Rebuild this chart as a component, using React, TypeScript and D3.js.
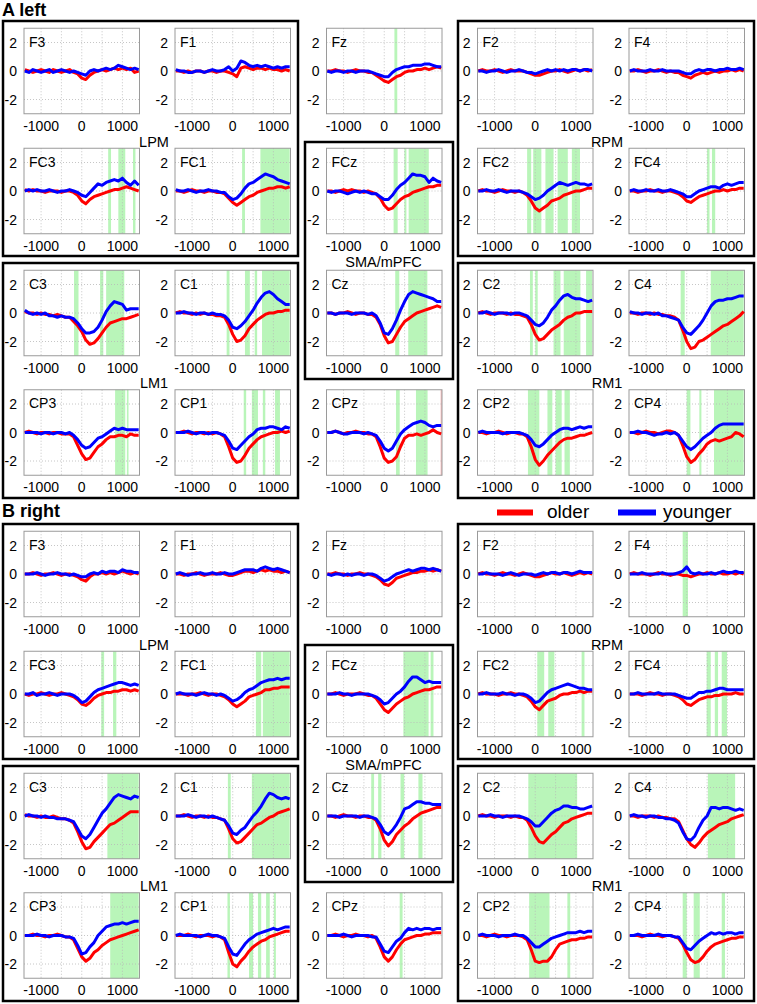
import React from "react";
import * as d3 from "d3";

// ---------- sampling times (ms) ----------
const TIMES = [-1400,-1300,-1200,-1100,-1000,-900,-800,-700,-600,-500,-400,-300,-200,-100,0,100,200,300,400,500,600,700,800,900,1000,1100,1200,1300,1400];
const X_TICKS = [-1000, 0, 1000];
const X_GRID = [-1000, -500, 0, 500, 1000];
const Y_TICKS = [-2, 0, 2];
const CHANNELS = [
  ["F3", "F1", "Fz", "F2", "F4"],
  ["FC3", "FC1", "FCz", "FC2", "FC4"],
  ["C3", "C1", "Cz", "C2", "C4"],
  ["CP3", "CP1", "CPz", "CP2", "CP4"],
];
const GROUPS = ["LPM", "RPM", "SMA/mPFC", "LM1", "RM1"];
const SECTIONS = ["A left", "B right"];
const LEGEND = ["older", "younger"];

// ---------- A left : older / younger ----------
const A_F3_o = [0.1,0,-0.1,0,0.1,0,-0.1,0.1,0,-0.1,0,0.1,-0.1,-0.2,-0.5,-0.6,-0.3,-0.1,0,0.1,0,0.1,0.2,0.1,0.2,0.1,0.2,-0.1,0];
const A_F3_y = [0,-0.1,0.1,0,-0.1,0,0.1,-0.1,0,0.1,0,-0.1,0,-0.1,-0.2,-0.3,0,0.1,0,0.1,0.2,0.1,0.2,0.4,0.3,0.2,0.1,0.2,0.1];
const A_F1_o = [0,0,-0.1,0,-0.1,0,0,-0.1,0,0,-0.1,0,0,-0.1,-0.2,-0.4,0.2,0.3,0.2,0.1,0.2,0.2,0.1,0.2,0.1,0.1,0,0.1,0];
const A_F1_y = [0.1,0,0,-0.1,-0.1,0,0,-0.1,0,0.1,0,0,0.1,0.3,0,0.2,0.7,0.6,0.4,0.3,0.4,0.3,0.4,0.3,0.2,0.3,0.2,0.3,0.3];
const A_Fz_o = [0,0,0.1,0,0,-0.1,0,0.1,0,0,-0.1,-0.1,-0.3,-0.5,-0.7,-0.8,-0.6,-0.4,-0.3,-0.1,0,0,0.1,0.1,0.2,0.1,0.2,0.3,0.2];
const A_Fz_y = [0,-0.1,0,0,-0.1,0,0,-0.1,0,0,0,-0.1,-0.2,-0.3,-0.4,-0.4,-0.1,0.1,0.2,0.3,0.3,0.4,0.4,0.4,0.5,0.5,0.4,0.3,0.3];
const A_F2_o = [0,0.1,0,0,0.1,0,-0.1,0,0.1,0,0,0,-0.1,-0.2,-0.3,-0.3,-0.2,-0.1,0,0,0.1,0,-0.1,0,0.1,0,0.1,0,0.1];
const A_F2_y = [0,0,-0.1,0,0,0.1,0,-0.1,0,0,0.1,0,-0.1,-0.1,-0.2,-0.1,0,0.1,0,0.1,0,0.1,0,0.1,0.1,0,0.1,0.1,0];
const A_F4_o = [0,0,0.1,0,-0.1,0,0,0.1,0,-0.1,0,-0.1,-0.1,-0.3,-0.4,-0.5,-0.3,-0.2,-0.1,-0.2,-0.1,0,-0.1,0,0,0.1,0,0.1,0];
const A_F4_y = [0,0.1,0,0,0,0.1,0,0,0.1,0,0,0,0,-0.1,-0.2,-0.2,0,0.1,0,0.1,0.1,0,0.1,0.1,0.2,0.1,0.1,0.2,0.1];
const A_FC3_o = [0.1,0,0.1,0,0,-0.1,0,0,0,-0.1,0,0,-0.1,-0.3,-0.7,-0.9,-0.6,-0.4,-0.3,-0.2,-0.1,0,0.1,0.1,0.2,0.3,0.2,0.1,0];
const A_FC3_y = [0,0.1,0,0.1,0,0,0.1,0,-0.1,0,0,0.1,0,-0.1,-0.3,-0.4,-0.1,0.2,0.5,0.4,0.6,0.7,0.8,0.7,0.9,0.6,0.4,0.7,0.4];
const A_FC1_o = [0,0,-0.1,0,0.1,0,0,-0.1,0,0,-0.1,-0.1,-0.2,-0.5,-0.8,-1.0,-0.8,-0.6,-0.4,-0.3,-0.1,0,0.1,0.2,0.2,0.3,0.3,0.2,0.3];
const A_FC1_y = [0.1,0,0,0.1,0,-0.1,0,0,0.1,0,0,-0.1,-0.1,-0.4,-0.6,-0.5,-0.2,0.2,0.5,0.6,0.8,1.0,1.2,1.1,1.0,0.8,0.7,0.6,0.5];
const A_FCz_o = [0,0,-0.1,0,0.1,0,0.1,0,0,-0.1,0,-0.1,-0.2,-0.5,-1.0,-1.3,-1.2,-0.9,-0.6,-0.4,-0.3,-0.1,0,0.1,0.2,0.3,0.3,0.4,0.4];
const A_FCz_y = [0,-0.1,0,0,-0.1,-0.2,-0.1,0,-0.1,0,-0.1,-0.2,-0.2,-0.4,-0.6,-0.6,-0.3,0.1,0.4,0.6,0.9,1.2,1.1,1.1,1.0,0.6,0.9,0.7,0.6];
const A_FC2_o = [0,0.1,0,0,-0.1,0,0.1,0,0,-0.1,0,-0.1,-0.3,-0.7,-1.2,-1.4,-1.2,-1.0,-0.7,-0.6,-0.5,-0.3,-0.2,-0.1,0,0,0.1,0.2,0.2];
const A_FC2_y = [0,0,0.1,0,0,0.1,0,-0.1,0,0,0,-0.1,-0.2,-0.4,-0.6,-0.5,-0.3,0,0.2,0.4,0.6,0.5,0.4,0.5,0.6,0.5,0.5,0.4,0.5];
const A_FC4_o = [0,0,-0.1,0,0,0.1,0,0,-0.1,0,0,-0.1,-0.2,-0.4,-0.7,-0.8,-0.6,-0.4,-0.3,-0.2,-0.1,0,0,0.1,0,0.1,0.1,0.2,0.2];
const A_FC4_y = [0,0.1,0,0,0.1,0,0,0.1,0,0,0.1,0,-0.1,-0.2,-0.4,-0.4,-0.2,0,0.1,0.2,0.3,0.3,0.2,0.4,0.5,0.4,0.5,0.6,0.6];
const A_C3_o = [0.1,0,0,-0.1,0,-0.1,-0.1,-0.2,-0.1,-0.2,-0.3,-0.3,-0.6,-0.9,-1.3,-1.9,-2.2,-2.1,-1.8,-1.4,-1.0,-0.7,-0.6,-0.5,-0.4,-0.4,-0.3,-0.2,-0.1];
const A_C3_y = [0.2,0,-0.1,0,-0.1,0,-0.2,-0.2,-0.3,-0.2,-0.3,-0.3,-0.4,-0.7,-1.1,-1.4,-1.4,-1.3,-1.0,-0.5,0.1,0.5,0.8,0.7,0.6,0.2,0.3,0.3,0.3];
const A_C1_o = [0,0.1,0,0,-0.1,0,-0.1,0,-0.1,-0.1,-0.2,-0.2,-0.3,-0.8,-1.5,-2.0,-1.9,-1.6,-1.1,-0.8,-0.5,-0.3,-0.1,0,0,0.1,0.1,0.2,0.2];
const A_C1_y = [0,0,0.1,0,0,-0.1,0,0,-0.1,0,-0.1,-0.1,-0.2,-0.5,-1.0,-1.1,-0.9,-0.6,-0.2,0.2,0.7,1.1,1.4,1.5,1.3,1.0,0.8,0.6,0.6];
const A_Cz_o = [0,0,-0.1,0,0,0.1,0,-0.1,0,0,-0.1,-0.1,-0.3,-0.8,-1.6,-2.1,-2.0,-1.5,-1.0,-0.6,-0.4,-0.2,0,0.1,0.2,0.3,0.4,0.5,0.4];
const A_Cz_y = [0,0,-0.1,0,0,0,-0.1,0,0,0,-0.1,0,-0.2,-0.7,-1.4,-1.5,-1.1,-0.5,0.2,0.8,1.3,1.5,1.4,1.3,1.2,1.1,1.0,0.8,0.8];
const A_C2_o = [0,0.1,0,-0.1,0,0,0,-0.1,0,-0.1,-0.1,-0.2,-0.3,-0.8,-1.5,-1.9,-1.8,-1.5,-1.2,-1.0,-0.8,-0.5,-0.3,-0.2,0,0,0.1,0.1,0.1];
const A_C2_y = [0,0,0.1,0,-0.1,0,0,0,-0.1,0,0,-0.1,-0.2,-0.5,-0.8,-0.9,-0.7,-0.3,0.2,0.5,0.9,1.2,1.3,1.1,1.0,1.0,0.9,0.8,0.9];
const A_C4_o = [0,0,-0.1,0,0,-0.1,0,-0.1,-0.1,-0.2,-0.2,-0.3,-0.5,-1.2,-2.0,-2.5,-2.4,-2.0,-1.9,-1.7,-1.5,-1.3,-1.1,-0.9,-0.8,-0.6,-0.4,-0.2,0.1];
const A_C4_y = [0.1,0,0,-0.1,0,0,-0.1,0,-0.2,-0.2,-0.3,-0.4,-0.5,-1.0,-1.4,-1.5,-1.2,-0.9,-0.5,0,0.5,0.8,0.9,0.9,1.0,1.0,1.1,1.2,1.2];
const A_CP3_o = [0,0.1,0,-0.1,0,0,-0.1,0,0,-0.1,-0.1,-0.1,-0.3,-0.9,-1.5,-1.9,-1.8,-1.4,-1.0,-0.8,-0.5,-0.3,-0.3,-0.2,-0.2,-0.3,-0.1,-0.2,-0.2];
const A_CP3_y = [0,0,0,0,-0.1,0,0,-0.1,0,0,-0.1,0,-0.2,-0.5,-0.9,-1.1,-1.0,-0.7,-0.4,-0.3,-0.1,0.1,0.3,0.2,0.3,0.2,0.2,0.2,0.2];
const A_CP1_o = [0,0,0.1,0,-0.1,0,0,-0.1,0,-0.1,0,-0.1,-0.3,-1.0,-1.8,-2.1,-2.0,-1.6,-1.1,-0.8,-0.5,-0.3,-0.2,-0.1,0,0,0.1,0,0.1];
const A_CP1_y = [0,0,0,0.1,0,-0.1,0,0,-0.1,0,0,-0.1,-0.2,-0.6,-1.1,-1.2,-0.9,-0.6,-0.3,-0.1,0.2,0.3,0.3,0.4,0.4,0.3,0.2,0.4,0.3];
const A_CPz_o = [0,0,0.1,0,-0.1,0,0,0.1,0,0,-0.1,-0.1,-0.3,-1.0,-1.8,-2.1,-2.0,-1.7,-1.0,-0.4,-0.2,-0.2,-0.1,-0.2,-0.1,0,0.2,0,-0.1];
const A_CPz_y = [0,0,0.1,0,-0.1,-0.1,0,0,0,-0.1,0,-0.1,-0.2,-0.6,-1.1,-1.3,-1.1,-0.6,-0.1,0.2,0.4,0.6,0.7,0.8,0.7,0.5,0.4,0.5,0.5];
const A_CP2_o = [0,0,-0.1,0,0,0.1,0,-0.1,0,0,-0.1,-0.1,-0.3,-1.0,-1.9,-2.3,-2.0,-1.6,-1.3,-1.0,-0.7,-0.5,-0.4,-0.4,-0.3,-0.2,-0.2,-0.1,0];
const A_CP2_y = [0,0.1,0,0,0,0,-0.1,0,0,0,0,-0.1,-0.2,-0.5,-0.9,-1.0,-0.8,-0.5,-0.2,0,0.2,0.3,0.3,0.2,0.3,0.4,0.3,0.4,0.4];
const A_CP4_o = [0,0,-0.1,0,0.1,0,0,-0.1,0,0.1,0.1,0,-0.2,-0.9,-1.7,-2.1,-1.9,-1.5,-1.2,-0.8,-0.6,-0.5,-0.6,-0.5,-0.4,-0.3,0,-0.1,-0.3];
const A_CP4_y = [0,0,0.1,0,0,-0.1,-0.2,-0.1,-0.1,0,-0.1,0,-0.2,-0.6,-1.0,-1.2,-1.0,-0.7,-0.4,-0.2,0,0.3,0.5,0.6,0.6,0.6,0.6,0.6,0.6];

// ---------- B right : older / younger ----------
const B_F3_o = [0,0,0.1,0,-0.1,0,0,0.1,0,-0.1,0,0,-0.1,-0.2,-0.4,-0.5,-0.2,0,0,0.1,0,0.1,0,0.1,0.2,0.1,0,0.1,0];
const B_F3_y = [0,0,0,0.1,0,-0.1,0,0,0.1,0,0,-0.1,0,-0.1,-0.2,-0.2,0,0.1,0,0.2,0.1,0.2,0.2,0.1,0.3,0.2,0.2,0.1,0.1];
const B_F1_o = [0,0,-0.1,0,0,0.1,0,-0.1,0,0,0,0.1,0,-0.1,-0.1,0,0.1,0.2,0.2,0.1,0.2,0.3,0.2,0.3,0.2,0.2,0.1,0.2,0.1];
const B_F1_y = [0,0.1,0,-0.1,0,0,0.1,0,0,0.1,0,0,0.1,0,0,0.1,0.2,0.3,0.3,0.3,0.2,0.4,0.5,0.4,0.3,0.4,0.3,0.2,0.1];
const B_Fz_o = [0,0,0.1,0,0,-0.1,0,0,0.1,0,0,-0.1,-0.2,-0.4,-0.7,-0.8,-0.6,-0.3,-0.2,-0.1,0,0.1,0.1,0.2,0.2,0.3,0.2,0.3,0.2];
const B_Fz_y = [0,-0.1,0,0,-0.1,0,-0.1,0,0,-0.1,0,0,-0.1,-0.3,-0.5,-0.4,-0.2,0,0.1,0.2,0.3,0.2,0.3,0.4,0.4,0.3,0.4,0.3,0.2];
const B_F2_o = [0,0.1,0,0,-0.1,0,0.1,0,0,-0.1,0,0.1,0,-0.1,-0.2,-0.2,-0.1,0,0.1,0,0,0.1,0,-0.1,0,0.1,0,0.1,0];
const B_F2_y = [0,0,0.1,0,0,0,-0.1,0,0.1,0,-0.1,0,0,0,-0.1,0,0.1,0,0.1,0.1,0,0.1,0.1,0,0.1,0.2,0.1,0.1,0.1];
const B_F4_o = [0,0.1,0,0,0,-0.1,0,0.1,0,0,-0.1,0,0,-0.1,-0.1,-0.2,-0.1,0,0,0.1,0,0,0.1,0,0,0.1,0,0.1,0];
const B_F4_y = [0,0,0,0.1,0,0,0,0,0.1,0,0,0,0.1,0.2,0.5,0.1,0,0.1,0,0,0.1,0,0.1,0.2,0.1,0.1,0.2,0.1,0.1];
const B_FC3_o = [0,-0.1,0,0,0.1,0,-0.1,0,0,0.1,0,-0.1,-0.2,-0.4,-0.7,-0.8,-0.6,-0.3,-0.1,0,0.1,0.1,0.2,0.2,0.3,0.3,0.2,0.3,0.2];
const B_FC3_y = [0,0,0.1,-0.1,0,0,0.1,0,-0.1,0,0,0,-0.1,-0.3,-0.6,-0.5,-0.2,0.1,0.3,0.4,0.5,0.6,0.7,0.8,0.8,0.7,0.6,0.7,0.6];
const B_FC1_o = [0,0,0,-0.1,0,0,0.1,0,-0.1,0,0,-0.1,-0.2,-0.4,-0.7,-0.9,-0.7,-0.5,-0.2,-0.1,0,0.1,0.3,0.3,0.4,0.4,0.5,0.5,0.5];
const B_FC1_y = [0,0.1,0,0,0,-0.1,0,0.1,0,0,-0.1,0,-0.1,-0.3,-0.5,-0.4,-0.2,0.1,0.3,0.4,0.6,0.8,0.9,1.0,1.0,1.1,1.0,1.1,1.1];
const B_FCz_o = [0,0,0.1,0,-0.1,0,0,0,0.1,0,-0.1,-0.1,-0.3,-0.7,-1.1,-1.3,-1.0,-0.7,-0.5,-0.3,-0.2,0,0.1,0.2,0.3,0.3,0.4,0.5,0.5];
const B_FCz_y = [0,0,0,0.1,0,0,-0.1,0,0,0,0,-0.1,-0.2,-0.4,-0.7,-0.6,-0.3,0,0.2,0.5,0.9,1.2,1.2,1.0,0.8,0.9,0.8,0.8,0.8];
const B_FC2_o = [0,0.1,0,0,0,-0.1,0,0,0.1,0,0,-0.1,-0.2,-0.5,-0.9,-1.1,-0.8,-0.5,-0.4,-0.3,-0.1,0,0,0.1,0.1,0.2,0.1,0.2,0.2];
const B_FC2_y = [0,0,0.1,0,0,0,0.1,0,0,-0.1,0,0,-0.1,-0.3,-0.6,-0.5,-0.2,0.1,0.3,0.4,0.5,0.6,0.7,0.6,0.5,0.4,0.4,0.3,0.3];
const B_FC4_o = [0,0,0,-0.1,0,0.1,0,0,-0.1,0,0,-0.1,-0.2,-0.4,-0.7,-0.8,-0.6,-0.4,-0.3,-0.2,-0.2,-0.1,-0.1,0,0,0,0.1,0,0];
const B_FC4_y = [0,0,0.1,0,0,0,0,0.1,0,0,0,0,-0.1,-0.2,-0.3,-0.3,-0.1,0.1,0.1,0.2,0.2,0.3,0.4,0.4,0.3,0.3,0.3,0.3,0.3];
const B_C3_o = [0.1,0,0,-0.1,0,-0.1,-0.1,0,-0.1,-0.2,-0.2,-0.3,-0.5,-1.1,-1.8,-2.3,-2.2,-1.8,-1.5,-1.2,-0.9,-0.6,-0.5,-0.3,-0.1,0.1,0.3,0.3,0.3];
const B_C3_y = [0,0.1,0,0,-0.1,0,-0.1,-0.1,-0.2,-0.2,-0.2,-0.3,-0.4,-0.9,-1.4,-1.6,-1.3,-0.8,-0.3,0.2,0.5,0.9,1.3,1.5,1.4,1.3,1.2,1.4,1.3];
const B_C1_o = [0,0,0.1,0,-0.1,0,0,-0.1,0,-0.1,-0.1,-0.2,-0.3,-0.9,-1.6,-1.9,-1.8,-1.5,-1.2,-0.9,-0.6,-0.5,-0.3,-0.1,0,0.2,0.3,0.4,0.5];
const B_C1_y = [0,0,0,0.1,0,-0.1,0,0,-0.1,0,-0.1,-0.2,-0.3,-0.7,-1.2,-1.3,-1.0,-0.8,-0.4,0,0.3,0.7,1.2,1.6,1.5,1.3,1.2,1.3,1.2];
const B_Cz_o = [0,0,-0.1,0,0.1,0,0,-0.1,0,0,-0.1,-0.1,-0.3,-0.9,-1.7,-2.1,-1.8,-1.3,-1.0,-0.7,-0.5,-0.2,0,0.2,0.3,0.4,0.5,0.6,0.6];
const B_Cz_y = [0,0,0,-0.1,0,0,0,0,-0.1,0,0,-0.1,-0.2,-0.6,-1.1,-1.3,-1.0,-0.6,-0.1,0.5,0.6,0.8,1.0,1.0,0.9,0.9,0.8,0.8,0.8];
const B_C2_o = [0,0.1,0,0,-0.1,0,0,0,-0.1,0,-0.1,-0.1,-0.3,-0.8,-1.4,-1.8,-1.9,-1.6,-1.3,-1.1,-0.8,-0.5,-0.4,-0.2,-0.1,0,0.1,0.2,0.2];
const B_C2_y = [0,0,0,0.1,0,0,-0.1,0,0,0,0,-0.1,-0.2,-0.4,-0.7,-0.7,-0.4,-0.1,0.2,0.4,0.5,0.7,0.7,0.6,0.6,0.5,0.5,0.6,0.7];
const B_C4_o = [0,0,-0.1,0,0,0,-0.1,0,-0.1,-0.1,-0.2,-0.2,-0.4,-1.0,-1.6,-2.0,-2.2,-1.9,-1.5,-1.2,-1.0,-0.8,-0.6,-0.5,-0.4,-0.2,-0.1,0,0.1];
const B_C4_y = [0,0.1,0,0,-0.1,0,0,-0.1,-0.1,-0.2,-0.2,-0.3,-0.5,-1.1,-1.6,-1.7,-1.4,-0.8,-0.3,0,0.6,0.6,0.5,0.6,0.6,0.5,0.4,0.5,0.4];
const B_CP3_o = [0,0,0.1,0,0,-0.1,0,0,0.1,0,-0.1,-0.1,-0.3,-0.9,-1.5,-1.8,-1.6,-1.2,-1.0,-0.7,-0.5,-0.3,-0.2,-0.1,0,0.1,0.2,0.3,0.4];
const B_CP3_y = [0,0,0,0.1,0,0,-0.1,0,0,0,-0.1,-0.1,-0.2,-0.7,-1.3,-1.2,-0.8,-0.5,0,0.3,0.6,0.7,0.8,0.8,0.9,0.8,0.9,1.0,1.0];
const B_CP1_o = [0,0,0,0.1,0,-0.1,0,0,0,-0.1,0,-0.1,-0.3,-1.2,-2.0,-2.2,-1.8,-1.5,-1.1,-0.8,-0.6,-0.4,-0.3,-0.1,0,0.1,0.2,0.3,0.3];
const B_CP1_y = [0,0.1,0,0,0,0,-0.1,0,0.1,0,0,-0.1,-0.2,-0.8,-1.3,-1.4,-1.0,-0.6,-0.3,-0.1,0.1,0.2,0.3,0.4,0.5,0.4,0.5,0.6,0.6];
const B_CPz_o = [0,0,0.1,0,-0.1,0,0,0.1,0,0,-0.1,0,-0.2,-0.8,-1.5,-1.8,-1.5,-1.0,-0.6,-0.3,-0.2,-0.1,0,0,0.1,0.1,0.2,0.2,0.2];
const B_CPz_y = [0,0,0,0,0.1,0,-0.1,0,0,0,0,-0.1,-0.1,-0.6,-1.1,-1.2,-0.8,-0.4,-0.2,0.2,0.5,0.4,0.5,0.4,0.5,0.5,0.4,0.5,0.5];
const B_CP2_o = [0,0,-0.1,0,0.1,0,0,-0.1,0,0,0,-0.1,-0.3,-1.0,-1.8,-1.9,-1.8,-1.8,-1.5,-1.0,-0.6,-0.5,-0.4,-0.3,-0.3,-0.2,-0.2,-0.1,-0.1];
const B_CP2_y = [0,0.1,0,0,0,-0.1,0,0,0,0.1,0,0,-0.2,-0.5,-0.8,-0.8,-0.6,-0.4,-0.2,-0.1,0,0.1,0.2,0.2,0.2,0.3,0.2,0.3,0.3];
const B_CP4_o = [0,0,0,-0.1,0,0.1,0,0,-0.1,0,0,-0.1,-0.2,-0.6,-1.2,-1.7,-1.9,-1.8,-1.5,-1.1,-0.8,-0.6,-0.5,-0.4,-0.3,-0.2,-0.2,-0.1,-0.1];
const B_CP4_y = [0,0,0.1,0,0,0,0,0.1,0,0,0,-0.1,-0.1,-0.5,-0.9,-1.0,-0.7,-0.4,-0.2,0,0.2,0.1,0.2,0.1,0.2,0.2,0.1,0.2,0.2];

// ---------- significant windows (ms) ----------
const A_SIG: Record<string, number[][]> = {
  F3: [], F1: [], Fz: [[250, 320]], F2: [], F4: [],
  FC3: [[650, 720], [900, 1070], [1260, 1320]],
  FC1: [[230, 300], [680, 1400]],
  FCz: [[230, 330], [495, 545], [600, 1095]],
  FC2: [[-200, -100], [-50, 150], [250, 450], [550, 800], [900, 1100]],
  FC4: [[500, 560], [620, 700]],
  C3: [[-190, -80], [450, 530], [600, 1045]],
  C1: [[-150, -80], [300, 420], [540, 600], [720, 1400]],
  Cz: [[270, 370], [590, 1060]],
  C2: [[-130, -60], [0, 60], [450, 620], [700, 1110], [1250, 1400]],
  C4: [[-150, -50], [590, 1400]],
  CP3: [[820, 1070], [1110, 1150]],
  CP1: [[270, 330], [470, 620], [740, 800], [1040, 1160]],
  CPz: [[290, 380], [780, 1065]],
  CP2: [[-180, 100], [300, 420], [500, 650], [720, 850]],
  CP4: [[0, 90], [310, 360], [670, 1400]],
};
const A_SIG_REV: Record<string, number[][]> = { CPz: [[1385, 1420]] };
const B_SIG: Record<string, number[][]> = {
  F3: [], F1: [], Fz: [], F2: [], F4: [[-100, 30]],
  FC3: [[480, 550], [770, 850]],
  FC1: [[570, 700], [740, 1400]],
  FCz: [[470, 1090], [1140, 1210]],
  FC2: [[50, 220], [320, 470], [1140, 1210]],
  FC4: [[490, 590], [690, 770], [860, 990]],
  C3: [[630, 1400]],
  C1: [[-120, -50], [470, 1400]],
  Cz: [[-320, -250], [-150, -70], [400, 490], [840, 940]],
  C2: [[-170, 1030]],
  C4: [[520, 1190]],
  CP3: [[700, 1400]],
  CP1: [[-130, -70], [400, 500], [620, 700], [820, 910], [1010, 1060]],
  CPz: [[380, 450]],
  CP2: [[-150, 350], [790, 860]],
  CP4: [[-100, 0], [170, 320], [860, 940]],
};
const B_SIG_REV: Record<string, number[][]> = {};

const A_SERIES: Record<string, number[][]> = {
  F3: [A_F3_o, A_F3_y], F1: [A_F1_o, A_F1_y], Fz: [A_Fz_o, A_Fz_y], F2: [A_F2_o, A_F2_y], F4: [A_F4_o, A_F4_y],
  FC3: [A_FC3_o, A_FC3_y], FC1: [A_FC1_o, A_FC1_y], FCz: [A_FCz_o, A_FCz_y], FC2: [A_FC2_o, A_FC2_y], FC4: [A_FC4_o, A_FC4_y],
  C3: [A_C3_o, A_C3_y], C1: [A_C1_o, A_C1_y], Cz: [A_Cz_o, A_Cz_y], C2: [A_C2_o, A_C2_y], C4: [A_C4_o, A_C4_y],
  CP3: [A_CP3_o, A_CP3_y], CP1: [A_CP1_o, A_CP1_y], CPz: [A_CPz_o, A_CPz_y], CP2: [A_CP2_o, A_CP2_y], CP4: [A_CP4_o, A_CP4_y],
};
const B_SERIES: Record<string, number[][]> = {
  F3: [B_F3_o, B_F3_y], F1: [B_F1_o, B_F1_y], Fz: [B_Fz_o, B_Fz_y], F2: [B_F2_o, B_F2_y], F4: [B_F4_o, B_F4_y],
  FC3: [B_FC3_o, B_FC3_y], FC1: [B_FC1_o, B_FC1_y], FCz: [B_FCz_o, B_FCz_y], FC2: [B_FC2_o, B_FC2_y], FC4: [B_FC4_o, B_FC4_y],
  C3: [B_C3_o, B_C3_y], C1: [B_C1_o, B_C1_y], Cz: [B_Cz_o, B_Cz_y], C2: [B_C2_o, B_C2_y], C4: [B_C4_o, B_C4_y],
  CP3: [B_CP3_o, B_CP3_y], CP1: [B_CP1_o, B_CP1_y], CPz: [B_CPz_o, B_CPz_y], CP2: [B_CP2_o, B_CP2_y], CP4: [B_CP4_o, B_CP4_y],
};

// ---------- layout ----------
const W = 757, H = 1004;
const FONT = "'Liberation Sans', Arial, Helvetica, sans-serif";
const COL_LEFT = [24, 175, 326.5, 477.5, 629];
const PLOT_W = 115.5;
const ROW_ZERO = [71, 191, 313, 432.5];
const HALF_H = 42.75;
const SECTION_OFFSET = [0, 503];
const TITLE_Y = [16, 517];
const COLORS = ["#ff0000", "#0000ff"];
const SIG_FILL = "#b9f5b9";
const SIG_REV_FILL = "#f7c0c0";
// boxes: [x0, y0, x1, y1] within a section
const BOXES = [
  [3, 21, 298, 256],
  [458, 21, 754, 256],
  [305, 142, 453, 379],
  [3, 263, 298, 498],
  [458, 263, 754, 498],
];
const GROUP_POS = [[154, 146.5], [607, 146.5], [383.5, 267], [154, 387.5], [607, 387.5]];

function Panel({ name, left, zero, series, sig, sigRev }: { name: string; left: number; zero: number; series: number[][]; sig: number[][]; sigRev: number[][] }) {
  const x = d3.scaleLinear().domain([-1420, 1420]).range([left, left + PLOT_W]);
  const y = d3.scaleLinear().domain([-3, 3]).range([zero + HALF_H, zero - HALF_H]);
  const line = d3.line<number>().x((_, i) => x(TIMES[i])).y((v) => y(v));
  const top = y(3), bottom = y(-3);
  return (
    <g>
      <rect x={left} y={top} width={PLOT_W} height={bottom - top} fill="#fff" />
      {sig.map(([a, b], i) => (
        <rect key={i} x={x(a)} y={top} width={Math.max(1, x(b) - x(a))} height={bottom - top} fill={SIG_FILL} />
      ))}
      {sigRev.map(([a, b], i) => (
        <rect key={"r" + i} x={x(a)} y={top} width={Math.max(1, x(b) - x(a))} height={bottom - top} fill={SIG_REV_FILL} />
      ))}
      {X_GRID.map((t) => (
        <line key={"gx" + t} x1={x(t)} x2={x(t)} y1={top} y2={bottom} stroke="#b8b8b8" strokeWidth={0.8} strokeDasharray="1,2" />
      ))}
      {Y_TICKS.map((t) => (
        <line key={"gy" + t} x1={left} x2={left + PLOT_W} y1={y(t)} y2={y(t)} stroke="#b8b8b8" strokeWidth={0.8} strokeDasharray="1,2" />
      ))}
      <rect x={left} y={top} width={PLOT_W} height={bottom - top} fill="none" stroke="#9a9a9a" strokeWidth={1} />
      {series.map((s, i) => (
        <path key={i} d={line(s) || ""} fill="none" stroke={COLORS[i]} strokeWidth={3} strokeLinejoin="round" />
      ))}
      <text x={left + 5} y={top + 18.5} fontSize={14} fontFamily={FONT} fill="#000">{name}</text>
      {X_TICKS.map((t) => (
        <text key={"tx" + t} x={x(t)} y={bottom + 17} fontSize={14} fontFamily={FONT} textAnchor="middle" fill="#000">{t}</text>
      ))}
      {Y_TICKS.map((t) => (
        <text key={"ty" + t} x={left - 7} y={y(t) + 5} fontSize={14} fontFamily={FONT} textAnchor="end" fill="#000">{t}</text>
      ))}
    </g>
  );
}

export default function App() {
  const sigs = [A_SIG, B_SIG];
  const sigsRev = [A_SIG_REV, B_SIG_REV];
  const sers = [A_SERIES, B_SERIES];
  return (
    <svg width={W} height={H} style={{ position: "absolute", left: 0, top: 0, background: "#fff" }}>
      <rect x={0} y={0} width={W} height={H} fill="#fff" />
      {SECTIONS.map((title, s) => {
        const oy = SECTION_OFFSET[s];
        return (
          <g key={title}>
            <text x={2} y={TITLE_Y[s]} fontSize={18} fontWeight="bold" fontFamily={FONT}>{title}</text>
            {CHANNELS.map((row, r) =>
              row.map((ch, c) => (
                <Panel key={ch} name={ch} left={COL_LEFT[c]} zero={ROW_ZERO[r] + oy} series={sers[s][ch]} sig={sigs[s][ch]} sigRev={sigsRev[s][ch] || []} />
              ))
            )}
            {BOXES.map((b, i) => (
              <rect key={"b" + i} x={b[0]} y={b[1] + oy} width={b[2] - b[0]} height={b[3] - b[1]} fill="none" stroke="#000" strokeWidth={2.5} />
            ))}
            {GROUPS.map((g, i) => (
              <text key={g} x={GROUP_POS[i][0]} y={GROUP_POS[i][1] + oy} fontSize={14.5} fontFamily={FONT} textAnchor="middle">{g}</text>
            ))}
          </g>
        );
      })}
      {LEGEND.map((lab, i) => (
        <g key={lab}>
          <line x1={i === 0 ? 497 : 618} x2={i === 0 ? 533 : 656} y1={512.5} y2={512.5} stroke={COLORS[i]} strokeWidth={6} />
          <text x={i === 0 ? 547 : 663} y={518} fontSize={19} fontFamily={FONT}>{lab}</text>
        </g>
      ))}
    </svg>
  );
}
